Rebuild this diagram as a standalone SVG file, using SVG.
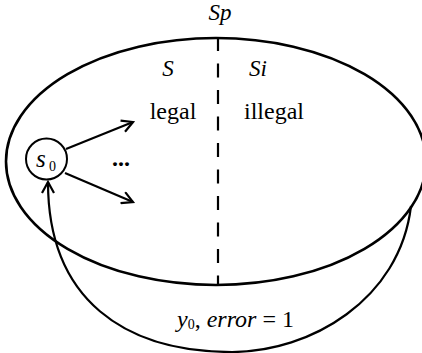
<svg xmlns="http://www.w3.org/2000/svg" width="422" height="353" viewBox="0 0 422 353">
<style>
.ln{fill:none;stroke:#000;stroke-width:2.2}
.it{font-style:italic;font-size:23px}
.rm{font-size:24px}
</style>
<defs>
<marker id="ah" viewBox="0 0 14 14" refX="12" refY="7" markerWidth="14" markerHeight="14" markerUnits="userSpaceOnUse" orient="auto">
<path d="M1,1 L12,7 L1,13" fill="none" stroke="#000" stroke-width="2.2"/>
</marker>
</defs>
<rect width="422" height="353" fill="#fff"/>
<g id="region" font-family="Liberation Serif, Times New Roman, serif" fill="#000">
<ellipse cx="216" cy="161.5" rx="210" ry="123.5" fill="none" stroke="#000" stroke-width="2.6"/>
<line x1="218" y1="37" x2="218" y2="285" stroke="#000" stroke-width="2.2" stroke-dasharray="14,12.5"/>
<text class="it" x="220" y="20" text-anchor="middle">Sp</text>
<text class="it" x="168" y="76" text-anchor="middle">S</text>
<text class="it" x="258" y="76" text-anchor="middle">Si</text>
<text class="rm" x="173" y="119" text-anchor="middle">legal</text>
<text class="rm" x="274" y="119" text-anchor="middle">illegal</text>
<text x="121" y="166" text-anchor="middle" font-weight="bold" font-size="24">...</text>
</g>
<g id="s0" font-family="Liberation Serif, Times New Roman, serif" fill="#000">
<circle cx="46.5" cy="159" r="20.5" fill="#fff" stroke="#000" stroke-width="2"/>
<text class="it" x="36" y="167" font-size="25" style="font-size:25px">s</text>
<text class="rm" x="49" y="171" style="font-size:14px">0</text>
</g>
<g id="connectors">
<line class="ln" x1="66" y1="149" x2="133" y2="122" marker-end="url(#ah)"/>
<line class="ln" x1="65" y1="173" x2="133" y2="202" marker-end="url(#ah)"/>
<path class="ln" d="M411,206 C400,300 310,352 232,352 C125,352 48,300 48,182" marker-end="url(#ah)"/>
</g>
<g id="label" font-family="Liberation Serif, Times New Roman, serif" fill="#000">
<text class="rm" x="177" y="327"><tspan font-style="italic">y</tspan><tspan font-size="14" dy="2">0</tspan><tspan dy="-2">, </tspan><tspan font-style="italic">error</tspan><tspan> = 1</tspan></text>
</g>
</svg>
